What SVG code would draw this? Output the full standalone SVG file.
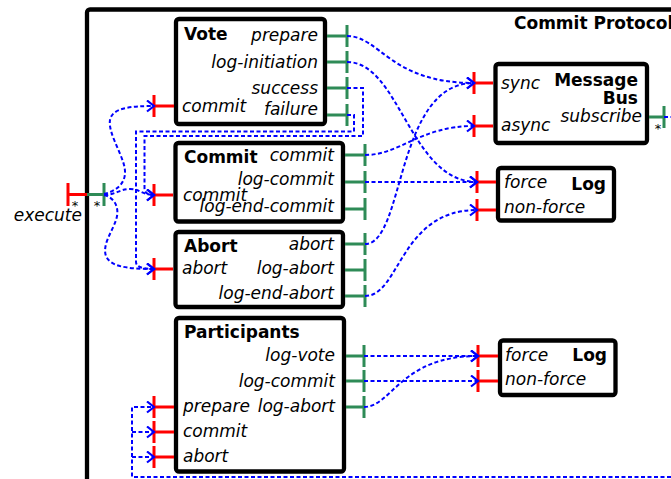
<svg xmlns="http://www.w3.org/2000/svg" width="671" height="479" viewBox="0 0 671 479">
<style>
.box{fill:#fff;stroke:#000;stroke-width:4.3}
.ttl{font-family:"DejaVu Sans",sans-serif;font-weight:bold;font-size:17px;fill:#000}
.lbl{font-family:"DejaVu Sans",sans-serif;font-style:italic;font-size:17px;fill:#000}
.end{text-anchor:end}
.star{font-family:"DejaVu Sans",sans-serif;font-size:13px;fill:#000;text-anchor:middle}
.op{stroke:#2e8b57;stroke-width:3;fill:none}
.ip{stroke:#ff0000;stroke-width:3;fill:none}
.c path{fill:none;stroke:#0000ff;stroke-width:2;stroke-dasharray:4,2.5;marker-end:url(#arr)}
.c path.n{marker-end:none}
</style>
<defs>
<marker id="arr" markerUnits="userSpaceOnUse" markerWidth="12" markerHeight="14" refX="8" refY="6" orient="auto">
<path d="M1,0.5 L8,6 L1,11.5" fill="none" stroke="#0000ff" stroke-width="2.2" stroke-dasharray="none"/>
</marker>
</defs>
<rect width="671" height="479" fill="#fff"/>

<g id="commit-protocol">
<rect class="box" x="87" y="9.5" width="700" height="600" rx="3"/>
<text class="ttl" x="514" y="29">Commit Protocol</text>
<path class="ip" d="M68,194.5 H87 M68,183 V206"/>
<text class="star" x="75" y="210">*</text>
<path class="op" d="M87,194.5 H104 M104,183 V206"/>
<text class="star" x="97" y="210">*</text>
<text class="lbl end" x="82" y="221">execute</text>
</g>

<g id="vote">
<rect class="box" x="176" y="19" width="149" height="105" rx="3"/>
<text class="ttl" x="184" y="40">Vote</text>
<text class="lbl end" x="318" y="41">prepare</text>
<text class="lbl end" x="318" y="68">log-initiation</text>
<text class="lbl end" x="318" y="94">success</text>
<text class="lbl end" x="318" y="115">failure</text>
<text class="lbl" x="182" y="112">commit</text>
<path class="op" d="M327,36 H347 M347,25 V47 M327,62 H347 M347,51 V73 M327,88 H347 M347,77 V99 M327,115 H347 M347,104 V126"/>
<path class="ip" d="M154,106 H174 M154,95 V117"/>
</g>

<g id="commit">
<rect class="box" x="175.5" y="143" width="167.5" height="78.5" rx="3"/>
<text class="ttl" x="184" y="163">Commit</text>
<text class="lbl end" x="334" y="161">commit</text>
<text class="lbl end" x="334" y="185">log-commit</text>
<text class="lbl end" x="334" y="212">log-end-commit</text>
<text class="lbl" x="183" y="201">commit</text>
<path class="op" d="M345,155 H365 M365,144 V166 M345,182 H365 M365,171 V193 M345,209 H365 M365,198 V220"/>
<path class="ip" d="M154,195 H173 M154,184 V206"/>
</g>

<g id="abort">
<rect class="box" x="175.5" y="232" width="167.5" height="75" rx="3"/>
<text class="ttl" x="184" y="252">Abort</text>
<text class="lbl end" x="334" y="250">abort</text>
<text class="lbl end" x="334" y="274">log-abort</text>
<text class="lbl end" x="334" y="299">log-end-abort</text>
<text class="lbl" x="182" y="274">abort</text>
<path class="op" d="M345,244 H365 M365,233 V255 M345,270 H365 M365,259 V281 M345,296 H365 M365,285 V307"/>
<path class="ip" d="M154,269 H173 M154,258 V280"/>
</g>

<g id="participants">
<rect class="box" x="176" y="318" width="168" height="153.5" rx="3"/>
<text class="ttl" x="184" y="338">Participants</text>
<text class="lbl end" x="335" y="361">log-vote</text>
<text class="lbl end" x="335" y="387">log-commit</text>
<text class="lbl end" x="335" y="412">log-abort</text>
<text class="lbl" x="183" y="412">prepare</text>
<text class="lbl" x="183" y="437">commit</text>
<text class="lbl" x="183" y="462">abort</text>
<path class="op" d="M346,356 H364 M364,345 V367 M346,381 H364 M364,370 V392 M346,407 H364 M364,396 V418"/>
<path class="ip" d="M154,407 H174 M154,396 V418 M154,432 H174 M154,421 V443 M154,457 H174 M154,446 V468"/>
</g>

<g id="message-bus">
<rect class="box" x="495.5" y="64" width="151.5" height="79" rx="3"/>
<text class="ttl end" x="638" y="86">Message</text>
<text class="ttl end" x="638" y="104">Bus</text>
<text class="lbl" x="501" y="89">sync</text>
<text class="lbl" x="501" y="131">async</text>
<text class="lbl end" x="642" y="122">subscribe</text>
<path class="ip" d="M474,83 H493 M474,72 V94 M474,126 H493 M474,115 V137"/>
<path class="op" d="M649,117 H664 M664,106 V128"/>
<text class="star" x="658" y="133">*</text>
</g>

<g id="log-1">
<rect class="box" x="498" y="168" width="116" height="52.5" rx="3"/>
<text class="ttl end" x="606" y="190">Log</text>
<text class="lbl" x="504" y="188">force</text>
<text class="lbl" x="504" y="213">non-force</text>
<path class="ip" d="M477,182 H496 M477,171 V193 M477,210 H496 M477,199 V221"/>
</g>

<g id="log-2">
<rect class="box" x="500" y="340.5" width="115.5" height="54.5" rx="3"/>
<text class="ttl end" x="607" y="361">Log</text>
<text class="lbl" x="505" y="361">force</text>
<text class="lbl" x="505" y="385">non-force</text>
<path class="ip" d="M478,356 H498 M478,345 V367 M478,381 H498 M478,370 V392"/>
</g>

<g id="connectors" class="c">
<path d="M347,36 C380,36 390,83 474,83"/>
<path d="M347,62 C400,62 410,182 477,182"/>
<path d="M365,155 C400,155 420,126 474,126"/>
<path d="M365,182 H477"/>
<path d="M365,244 C405,244 395,83 474,83"/>
<path d="M365,296 C400,296 400,210 477,210"/>
<path d="M364,356 H478"/>
<path d="M364,381 H478"/>
<path d="M364,407 C392,407 400,356 478,356"/>
<path d="M347,88 H363 V136 H144.5 V188 Q144.5,195 154,195"/>
<path d="M347,115 H354 V131.5 H136 V262 Q136,269 154,269"/>
<path d="M104,194 C120,190 128,180 124,165 C120,150 108,132 110,120 C112,108 130,106 154,106"/>
<path d="M104,195 C115,195 120,189 130,189 C140,189 142,195 154,195"/>
<path d="M104,195 C115,198 120,208 116,220 C112,232 102,245 106,256 C110,266 125,269 154,269"/>
<path class="n" d="M664,117 H671"/>
<path d="M671,477 H132 V407 H154"/>
<path d="M132,432 H154"/>
<path d="M132,457 H154"/>
</g>
</svg>
